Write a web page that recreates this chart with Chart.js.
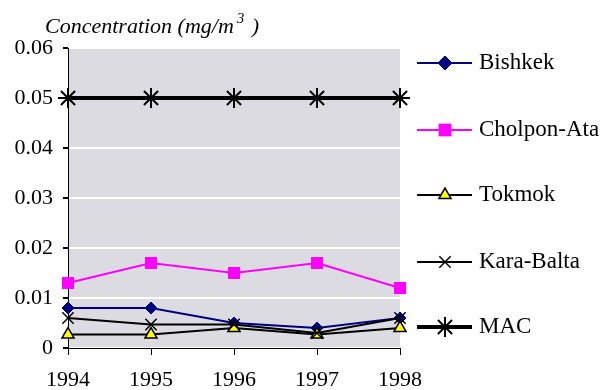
<!DOCTYPE html>
<html>
<head>
<meta charset="utf-8">
<script src="https://cdn.jsdelivr.net/npm/chart.js@4/dist/chart.umd.min.js"></script>
<style>
  body { margin: 0; background: #fff; }
  #wrap { width: 605px; height: 390px; }
</style>
</head>
<body>
<div id="wrap"><canvas id="chart" width="605" height="390"></canvas></div>
<script>
const years = ['1994', '1995', '1996', '1997', '1998'];
const bishkek = [0.008, 0.008, 0.005, 0.004, 0.006];
const cholponAta = [0.013, 0.017, 0.015, 0.017, 0.012];
const tokmok = [0.0027, 0.0027, 0.004, 0.0027, 0.004];
const karaBalta = [0.006, 0.0047, 0.0047, 0.003, 0.006];
const mac = [0.05, 0.05, 0.05, 0.05, 0.05];
const yTicks = [0, 0.01, 0.02, 0.03, 0.04, 0.05, 0.06];

const serif = '"Liberation Serif", "Times New Roman", serif';

const series = [
    { label: 'Bishkek', data: bishkek, color: '#000080', width: 2, style: 'rectRot', radius: 6, fill: '#000080', bw: 1, legendR: 7 },
    { label: 'Cholpon-Ata', data: cholponAta, color: '#FF00FF', width: 2, style: 'rect', radius: 8.5, fill: '#FF00FF', bw: 0, legendR: 9 },
    { label: 'Tokmok', data: tokmok, color: '#000000', width: 2, style: 'triangle', radius: 7, fill: '#FFFF00', bw: 1.5, legendR: 7 },
    { label: 'Kara-Balta', data: karaBalta, color: '#000000', width: 2, style: 'crossRot', radius: 8, fill: '#000000', bw: 1.5, legendR: 8 },
    { label: 'MAC', data: mac, color: '#000000', width: 4, style: 'star', radius: 10, fill: '#000000', bw: 2, legendR: 10 }
];

const datasets = series.map((s, i) => ({
    label: s.label,
    data: s.data,
    borderColor: s.color,
    borderWidth: s.width,
    pointStyle: s.style,
    pointRadius: s.radius,
    pointBackgroundColor: s.fill,
    pointBorderColor: s.style === 'triangle' ? '#000' : s.color,
    pointBorderWidth: s.bw,
    tension: 0,
    order: series.length - i
}));

const extras = {
    id: 'extras',
    beforeDraw(chart) {
        const a = chart.chartArea;
        const ctx = chart.ctx;
        ctx.save();
        ctx.fillStyle = '#DBDBE1';
        ctx.fillRect(a.left, a.top, a.right - a.left, a.bottom - a.top);
        ctx.restore();
    },
    afterDraw(chart) {
        const ctx = chart.ctx;
        ctx.save();
        // axis title
        ctx.fillStyle = '#000';
        ctx.textBaseline = 'alphabetic';
        ctx.font = 'italic 22px ' + serif;
        let x = 45;
        const base = 33;
        const t1 = 'Concentration (mg/m';
        ctx.fillText(t1, x, base);
        x += ctx.measureText(t1).width + 3;
        ctx.font = 'italic 15px ' + serif;
        ctx.fillText('3', x, base - 10);
        x += ctx.measureText('3').width + 2;
        ctx.font = 'italic 22px ' + serif;
        ctx.fillText(' )', x, base);

        // legend
        const ys = [63, 130, 195, 262, 327];
        ctx.font = '23px ' + serif;
        ctx.textBaseline = 'middle';
        series.forEach((s, i) => {
            const y = ys[i];
            ctx.strokeStyle = s.color;
            ctx.lineWidth = s.width;
            ctx.beginPath();
            ctx.moveTo(417, y);
            ctx.lineTo(472, y);
            ctx.stroke();
            ctx.fillStyle = s.fill;
            ctx.strokeStyle = s.style === 'triangle' ? '#000' : s.color;
            ctx.lineWidth = s.bw;
            Chart.helpers.drawPoint(ctx, {
                pointStyle: s.style,
                radius: s.legendR,
                rotation: 0,
                borderWidth: s.bw
            }, 445, y);
            ctx.fillStyle = '#000';
            ctx.fillText(s.label, 479, y);
        });
        ctx.restore();
    }
};

function build() {
    new Chart(document.getElementById('chart'), {
        type: 'line',
        data: { labels: years, datasets: datasets },
        options: {
            responsive: false,
            animation: false,
            layout: { padding: { top: 48, right: 205, left: 0, bottom: 0 } },
            plugins: {
                legend: { display: false },
                title: { display: false },
                tooltip: { enabled: false }
            },
            scales: {
                x: {
                    offset: false,
                    afterFit(scale) { scale.height = 42; },
                    grid: { drawOnChartArea: false, color: '#000', tickColor: '#000', tickLength: 7 },
                    border: { color: '#000', width: 1 },
                    ticks: { color: '#000', font: { family: serif, size: 22 }, padding: 12, maxRotation: 0 }
                },
                y: {
                    min: 0,
                    max: 0.06,
                    afterFit(scale) { scale.width = 68; },
                    afterBuildTicks(scale) { scale.ticks = yTicks.map(v => ({ value: v })); },
                    grid: { color: '#FFFFFF', lineWidth: 2, tickColor: '#000', tickLength: 5 },
                    border: { color: '#000', width: 1 },
                    ticks: {
                        color: '#000',
                        font: { family: serif, size: 22 },
                        padding: 10,
                        callback: v => v === 0 ? '0' : v.toFixed(2)
                    }
                }
            }
        },
        plugins: [extras]
    });
}

Promise.all([
    document.fonts.load('22px "Liberation Serif"'),
    document.fonts.load('italic 22px "Liberation Serif"')
]).then(build, build);
</script>
</body>
</html>
